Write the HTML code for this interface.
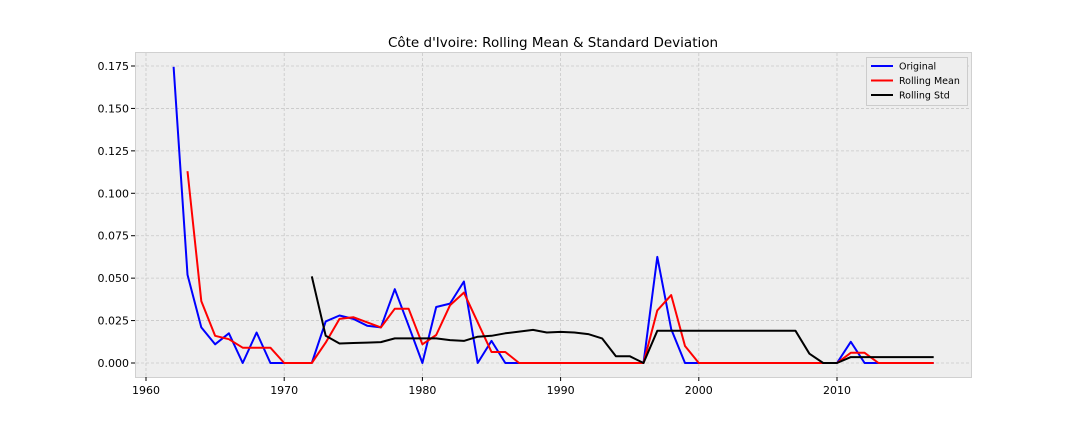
<!DOCTYPE html>
<html><head><meta charset="utf-8"><style>
body{margin:0;background:#fff;font-family:"Liberation Sans","DejaVu Sans",sans-serif}
svg text{font-family:"DejaVu Sans","Liberation Sans",sans-serif}
</style></head><body>
<svg id="chart" width="1080" height="432">
<rect x="135.5" y="52.5" width="836" height="325" fill="#eeeeee" stroke="#d0d0d0"/>
<g id="grid"></g><g id="axes"></g><g id="series"></g>
<text x="553" y="47" text-anchor="middle" font-size="13.5" fill="#000">Côte d'Ivoire: Rolling Mean &amp; Standard Deviation</text>
<g>
<rect x="866.5" y="57.5" width="101" height="48" fill="#eeeeee" stroke="#cccccc"/>
<line x1="871" y1="66" x2="893" y2="66" stroke="#0000ff" stroke-width="2"/>
<text x="899" y="69.5" font-size="9.5">Original</text>
<line x1="871" y1="80.5" x2="893" y2="80.5" stroke="#ff0000" stroke-width="2"/>
<text x="899" y="84" font-size="9.5">Rolling Mean</text>
<line x1="871" y1="95" x2="893" y2="95" stroke="#000" stroke-width="2"/>
<text x="899" y="98.5" font-size="9.5">Rolling Std</text>
</g>
</svg>
<script>
const origStart=1962;
const original=[0.1745,0.052,0.021,0.011,0.0175,0,0.018,0,0,0,0,0.0245,0.028,0.026,0.022,0.021,0.0435,0.022,0,0.033,0.035,0.048,0,0.013,0,0,0,0,0,0,0,0,0,0,0,0.0625,0.02,0,0,0,0,0,0,0,0,0,0,0,0,0.0125,0,0,0,0,0,0];
const meanStart=1963;
const rollingMean=[0.113,0.0365,0.016,0.014,0.009,0.009,0.009,0,0,0,0.012,0.026,0.027,0.024,0.021,0.032,0.032,0.011,0.0165,0.034,0.0415,0.024,0.0065,0.0065,0,0,0,0,0,0,0,0,0,0,0.031,0.040,0.01,0,0,0,0,0,0,0,0,0,0,0,0.006,0.006,0,0,0,0,0];
const stdStart=1972;
const rollingStd=[0.051,0.016,0.0115,0.0118,0.012,0.0123,0.0145,0.0145,0.0145,0.0145,0.0135,0.013,0.0155,0.016,0.0175,0.0185,0.0195,0.018,0.0183,0.018,0.017,0.0145,0.004,0.004,0,0.019,0.019,0.019,0.019,0.019,0.019,0.019,0.019,0.019,0.019,0.019,0.0055,0,0,0.0035,0.0035,0.0035,0.0035,0.0035,0.0035,0.0035];
const xTicks=[1960,1970,1980,1990,2000,2010];
const yTicks=[0,0.025,0.05,0.075,0.1,0.125,0.15,0.175];
const X=v=>146+(v-1960)*(837-146)/50;
const Y=v=>363-v*(363-66)/0.175;
const NS="http://www.w3.org/2000/svg";
function mk(parent,tag,attrs){const e=document.createElementNS(NS,tag);for(const k in attrs)e.setAttribute(k,attrs[k]);document.getElementById(parent).appendChild(e);return e;}
xTicks.forEach(t=>{
 const g=mk('grid','line',{x1:X(t),x2:X(t),y1:53,y2:377,stroke:'#c8c8c8','stroke-dasharray':'3,2','stroke-width':0.8});
 
 
 mk('axes','line',{x1:X(t),x2:X(t),y1:377,y2:381,stroke:'#000'});
 const l=mk('axes','text',{x:X(t),y:394,'text-anchor':'middle','font-size':11});
 l.textContent=t;
 
 
});
yTicks.forEach(t=>{
 const g=mk('grid','line',{x1:136,x2:971,y1:Y(t),y2:Y(t),stroke:'#c8c8c8','stroke-dasharray':'3,2','stroke-width':0.8});
 
 
 mk('axes','line',{x1:131,x2:135,y1:Y(t),y2:Y(t),stroke:'#000'});
 const l=mk('axes','text',{x:129,y:Y(t)+4,'text-anchor':'end','font-size':11});
 l.textContent=t.toFixed(3);
 
 
});
function line(data,start,color,name){
 const d=data.map((v,i)=>(i?'L':'M')+X(start+i).toFixed(1)+','+Y(v).toFixed(1)).join('');
 const p=mk('series','path',{d:d,fill:'none',stroke:color,'stroke-width':2,'stroke-linejoin':'round'});
 
 
}
line(original,origStart,'#0000ff','original-line');
line(rollingMean,meanStart,'#ff0000','rolling-mean-line');
line(rollingStd,stdStart,'#000000','rolling-std-line');
</script>
</body></html>
